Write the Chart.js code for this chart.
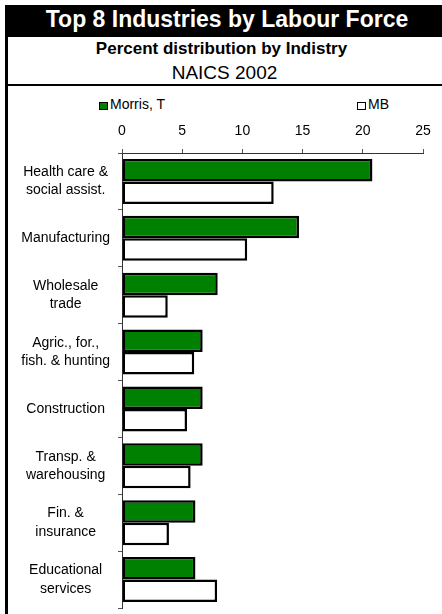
<!DOCTYPE html>
<html>
<head>
<meta charset="utf-8">
<script src="https://cdn.jsdelivr.net/npm/chart.js@4.4.1/dist/chart.umd.min.js"></script>
<style>
  body { margin: 0; background: #fff; font-family: "Liberation Sans", Arial, sans-serif; }
  #page { position: relative; width: 442px; height: 614px; overflow: hidden; }
  .abs { position: absolute; }
  #leftBorder { left: 5px; top: 5px; width: 3px; height: 609px; background: #000; }
  #titleBar { left: 5px; top: 5px; width: 437px; height: 32px; background: #000; }
  .centered { text-align: center; white-space: nowrap; }
  #title { left: 0; top: 6px; width: 454px; color: #fff; font-weight: bold; font-size: 23px; line-height: 26px; }
  #subtitle { left: 0; top: 39px; width: 443px; font-weight: bold; font-size: 17px; line-height: 20px; }
  #naics { left: 0; top: 62px; width: 449px; font-size: 19px; line-height: 22px; }
  #rule { left: 5px; top: 84px; width: 437px; height: 2px; background: #000; }
  .legItem { font-size: 14px; line-height: 16px; white-space: nowrap; }
  .legBox { display: inline-block; width: 7px; height: 6px; border: 1.5px solid #000; vertical-align: -1px; margin-right: 2px; }
  #chartWrap { left: 8px; top: 114px; width: 434px; height: 500px; }
</style>
</head>
<body>
<div id="page">
  <div class="abs" id="titleBar"></div>
  <div class="abs" id="leftBorder"></div>
  <div class="abs centered" id="title">Top 8 Industries by Labour Force</div>
  <div class="abs centered" id="subtitle">Percent distribution by Indistry</div>
  <div class="abs centered" id="naics">NAICS 2002</div>
  <div class="abs" id="rule"></div>
  <div class="abs legItem" style="left:99px; top:96px;"><span class="legBox" style="background:#008000"></span>Morris, T</div>
  <div class="abs legItem" style="left:357px; top:96px;"><span class="legBox" style="background:#fff"></span>MB</div>
  <div class="abs" id="chartWrap"><canvas id="industryChart"></canvas></div>
</div>
<script>
// Top 8 industries, percent distribution
const industries = [
    ['Health care &', 'social assist.'],
    'Manufacturing',
    ['Wholesale', 'trade'],
    ['Agric., for.,', 'fish. & hunting'],
    'Construction',
    ['Transp. &', 'warehousing'],
    ['Fin. &', 'insurance'],
    ['Educational', 'services']
];
const morrisValues = [20.8, 14.7, 7.95, 6.7, 6.7, 6.7, 6.1, 6.1];
const mbValues = [12.6, 10.4, 3.8, 6.0, 5.4, 5.7, 3.9, 7.9];
const seriesNames = ['Morris, T', 'MB'];
const xTicks = [0, 5, 10, 15, 20, 25];

const fontFamily = '"Liberation Sans", Arial, sans-serif';

const ctx = document.getElementById('industryChart').getContext('2d');
const industryChart = new Chart(ctx, {
    type: 'bar',
    data: {
        labels: industries,
        datasets: [{
            label: seriesNames[0],
            data: morrisValues,
            backgroundColor: '#008000',
            borderColor: '#000',
            borderWidth: 2.5,
            borderSkipped: false,
            categoryPercentage: 0.79,
            barPercentage: 1.0
        }, {
            label: seriesNames[1],
            data: mbValues,
            backgroundColor: '#fff',
            borderColor: '#000',
            borderWidth: 2.5,
            borderSkipped: false,
            categoryPercentage: 0.79,
            barPercentage: 1.0
        }]
    },
    options: {
        indexAxis: 'y',
        responsive: true,
        maintainAspectRatio: false,
        animation: false,
        layout: { padding: { left: 0, right: 19, top: 0, bottom: 6 } },
        plugins: {
            legend: { display: false },
            tooltip: { enabled: false }
        },
        scales: {
            x: {
                position: 'top',
                min: 0,
                max: 25,
                afterBuildTicks: (scale) => { scale.ticks = xTicks.map(v => ({ value: v })); },
                afterFit: (scale) => { scale.height = 39; },
                grid: { drawOnChartArea: false, tickLength: 4, color: '#555' },
                border: { color: '#333', width: 1 },
                ticks: { color: '#000', padding: 9, font: { family: fontFamily, size: 14 } }
            },
            y: {
                afterFit: (scale) => {
                    scale.width = 114;
                    scale.paddingTop = 0;
                    scale.paddingBottom = 0;
                },
                grid: { drawOnChartArea: false, tickLength: 4, offset: true, color: '#555' },
                border: { color: '#333', width: 1 },
                ticks: {
                    color: '#000',
                    padding: 8,
                    crossAlign: 'center',
                    font: { family: fontFamily, size: 14, lineHeight: 1.3 }
                }
            }
        }
    }
});
</script>
</body>
</html>
